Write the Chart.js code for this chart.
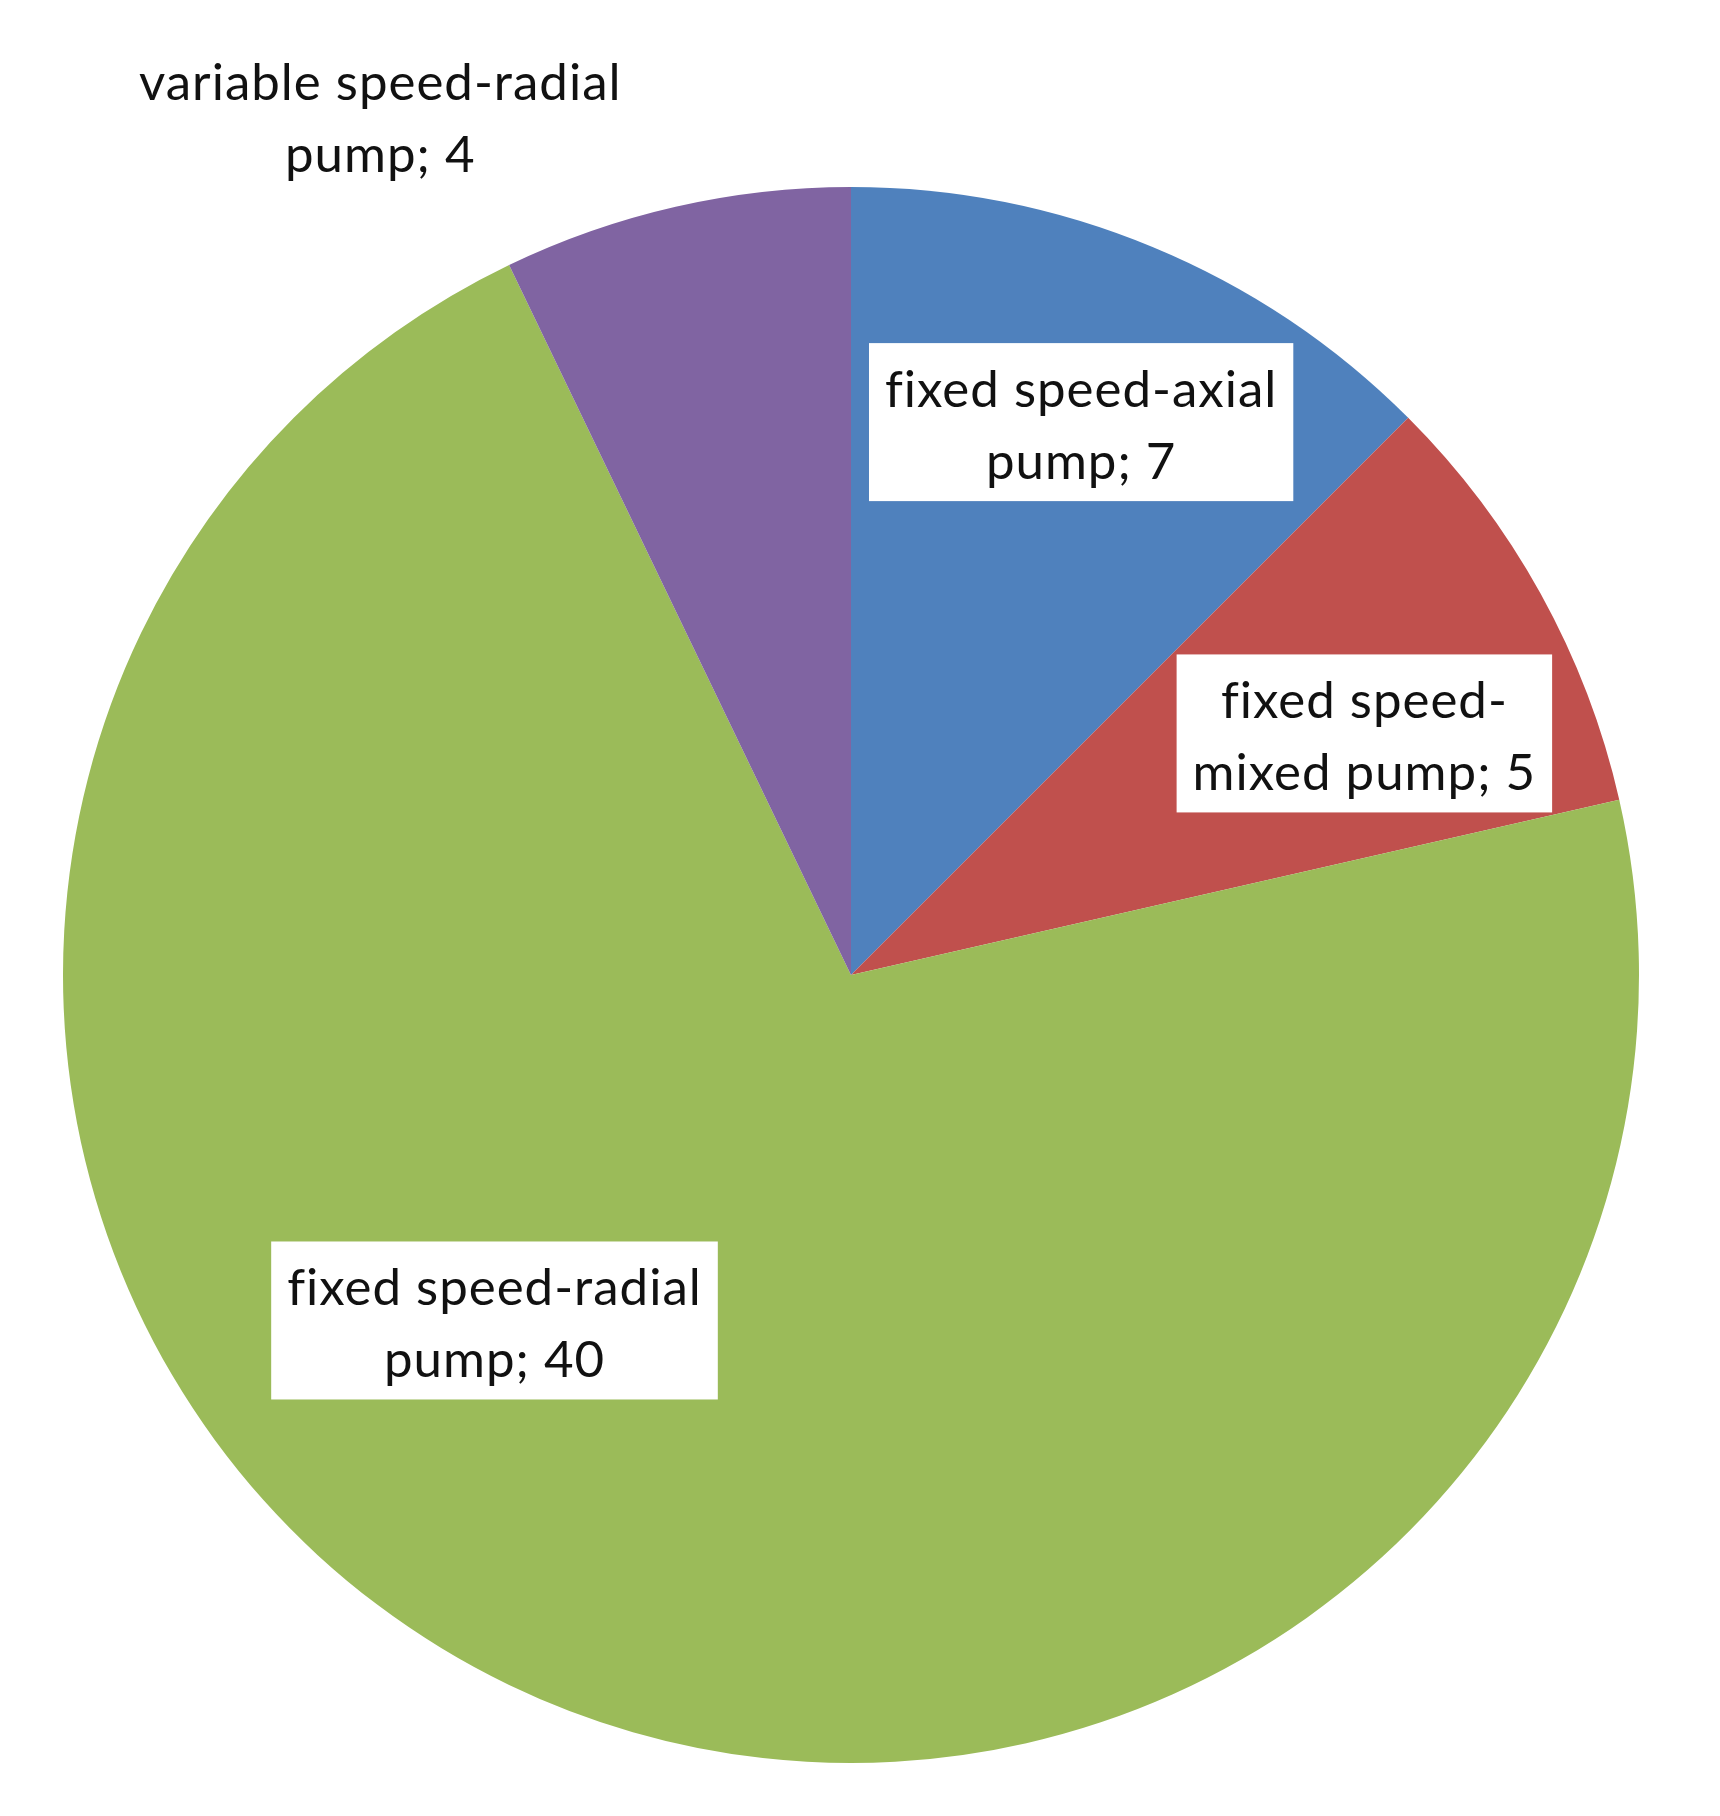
<!DOCTYPE html>
<html>
<head>
<meta charset="utf-8">
<script src="https://cdn.jsdelivr.net/npm/chart.js@4.4.1/dist/chart.umd.min.js"></script>
<style>
  html, body { margin: 0; padding: 0; background: #fff; }
  #wrap { width: 1720px; height: 1816px; position: relative; }
</style>
</head>
<body>
<div id="wrap"><canvas id="pie"></canvas></div>
<script>
// ===== data =====
const PUMP_TYPES = [
  'fixed speed-axial pump',
  'fixed speed-mixed pump',
  'fixed speed-radial pump',
  'variable speed-radial pump',
];
const PUMP_COUNTS = [7, 5, 40, 4];
const SLICE_COLORS = ['#4F81BD', '#C0504D', '#9BBB59', '#8064A2'];

// label text split as in the original (two lines each)
const LABEL_LINES = [
  ['fixed speed-axial', 'pump; 7'],
  ['fixed speed-', 'mixed pump; 5'],
  ['fixed speed-radial', 'pump; 40'],
  ['variable speed-radial', 'pump; 4'],
];
// placement: angle from 12 o'clock (deg, clockwise) and distance as fraction of radius
const LABEL_PLACE = [
  { ang: 22.6, r: 0.76, box: true },
  { ang: 64.8, r: 0.72, box: true },
  { ang: 225.9, r: 0.63, box: true },
  { ang: 331.3, r: 1.244, box: false },
];

const FONT = '51px Lato, "Open Sans", sans-serif';
const LINE_H = 72;

const labelPlugin = {
  id: 'boxLabels',
  afterDatasetsDraw(chart) {
    const { ctx } = chart;
    const arc = chart.getDatasetMeta(0).data[0];
    const cx = arc.x, cy = arc.y, R = arc.outerRadius;
    ctx.save();
    ctx.font = FONT;
    ctx.letterSpacing = '1px';
    ctx.textAlign = 'center';
    ctx.textBaseline = 'middle';
    LABEL_LINES.forEach((lines, i) => {
      const p = LABEL_PLACE[i];
      const a = p.ang * Math.PI / 180;
      const x = cx + Math.sin(a) * R * p.r;
      const y = cy - Math.cos(a) * R * p.r;
      const w = Math.max(...lines.map(l => ctx.measureText(l).width));
      const h = lines.length * LINE_H;
      if (p.box) {
        ctx.fillStyle = '#fff';
        ctx.fillRect(x - w / 2 - 16, y - h / 2 - 7, w + 32, h + 14);
      }
      ctx.fillStyle = '#111';
      lines.forEach((l, k) => {
        ctx.fillText(l, x, y - h / 2 + LINE_H * (k + 0.5) + 4);
      });
    });
    ctx.restore();
  }
};

new Chart(document.getElementById('pie'), {
  type: 'pie',
  data: {
    labels: PUMP_TYPES,
    datasets: [{
      data: PUMP_COUNTS,
      backgroundColor: SLICE_COLORS,
      borderWidth: 0,
    }]
  },
  options: {
    responsive: true, maintainAspectRatio: false,
    animation: false,
    layout: { padding: { left: 63, right: 81, top: 187, bottom: 53 } },
    plugins: { legend: { display: false }, tooltip: { enabled: false } },
  },
  plugins: [labelPlugin],
});
</script>
</body>
</html>
